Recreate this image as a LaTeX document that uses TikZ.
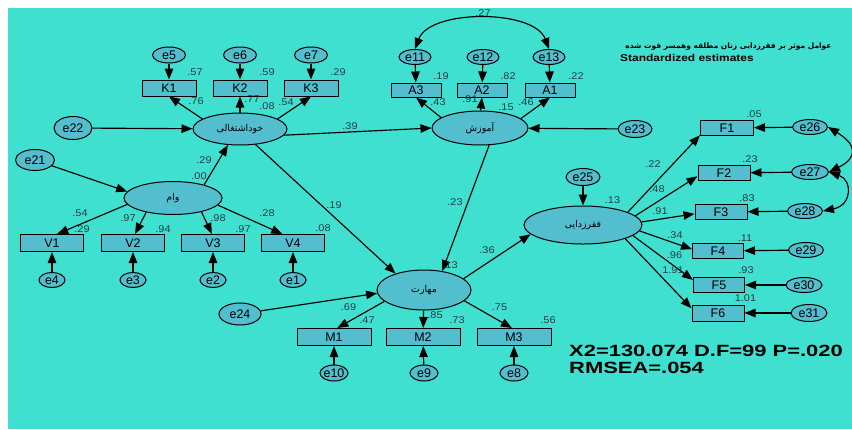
\documentclass[tikz,border=0pt]{standalone}
\usepackage{fontspec}
\setmainfont{Liberation Sans}
\newfontfamily\arab[Script=Arabic]{DejaVu Sans}
\newfontfamily\widefont[FakeStretch=1.35]{Liberation Sans}
\newfontfamily\midfont[FakeStretch=1.2]{Liberation Sans}
\newfontfamily\numfont[FakeStretch=1.12]{Liberation Sans}
\TeXXeTstate=1
\usetikzlibrary{shapes.geometric,arrows.meta}
\definecolor{bgc}{RGB}{64,224,208}
\definecolor{nodec}{RGB}{82,190,206}
\definecolor{numc}{RGB}{35,60,66}
\tikzset{
  ar/.style={-{Triangle[length=11bp,width=8.5bp]}, line width=1.15bp, draw=black},
  dar/.style={{Triangle[length=11bp,width=8.5bp]}-{Triangle[length=11bp,width=8.5bp]}, line width=1.15bp, draw=black},
  enode/.style 2 args={ellipse, draw=black, line width=1bp, fill=nodec, minimum width=#1bp, minimum height=#2bp, inner sep=0pt, font=\fontsize{12.5}{14}\selectfont},
  lat/.style 2 args={ellipse, draw=black, line width=1bp, fill=nodec, minimum width=#1bp, minimum height=#2bp, inner sep=0pt, font=\arab\fontsize{9.5}{11}\selectfont},
  obs/.style 2 args={rectangle, draw=black, line width=1bp, fill=nodec, minimum width=#1bp, minimum height=#2bp, inner sep=0pt, font=\fontsize{12.5}{14}\selectfont},
  num/.style={inner sep=0pt, text=numc, font=\numfont\fontsize{9.8}{11}\selectfont},
}
\newcommand{\zb}[1]{\makebox[0pt]{#1}}
\newcommand{\rtl}[1]{\makebox[0pt]{\beginR #1\endR}}
\begin{document}
\begin{tikzpicture}[x=1bp,y=-1bp]
\useasboundingbox (0,0) rectangle (852,429);
\fill[white] (0,0) rectangle (852,429);
\fill[bgc] (8,8) rectangle (852,429);

% latent variables
\node[lat={94}{32}] (khod) at (240,129) {\rtl{خوداشتغالی}};
\node[lat={96}{34}] (amoz) at (480,128) {\rtl{آموزش}};
\node[lat={98}{33}] (vam) at (173,198) {\rtl{وام}};
\node[lat={94}{40}] (mahar) at (424,290) {\rtl{مهارت}};
\node[lat={118}{38}] (faghr) at (583,225) {\rtl{فقرزدایی}};

% K group
\node[enode={33}{16}] (e5) at (169,55) {\zb{e5}};
\node[enode={33}{16}] (e6) at (240,55) {\zb{e6}};
\node[enode={33}{16}] (e7) at (311,55) {\zb{e7}};
\node[obs={54}{16}] (K1) at (169,88) {\zb{K1}};
\node[obs={54}{16}] (K2) at (240,88) {\zb{K2}};
\node[obs={54}{16}] (K3) at (311,88) {\zb{K3}};
\node[enode={38}{23}] (e22) at (73,128) {\zb{e22}};

% A group
\node[enode={32}{15}] (e11) at (415,57) {\zb{e11}};
\node[enode={32}{15}] (e12) at (483,57) {\zb{e12}};
\node[enode={32}{15}] (e13) at (549,57) {\zb{e13}};
\node[obs={50}{14}] (A3) at (416,90) {\zb{A3}};
\node[obs={50}{14}] (A2) at (482,90) {\zb{A2}};
\node[obs={50}{14}] (A1) at (550,90) {\zb{A1}};
\node[enode={34}{17}] (e23) at (635,129) {\zb{e23}};

% V group
\node[enode={39}{21}] (e21) at (35,160) {\zb{e21}};
\node[obs={63}{17}] (V1) at (52,243) {\zb{V1}};
\node[obs={63}{17}] (V2) at (133,243) {\zb{V2}};
\node[obs={63}{17}] (V3) at (213,243) {\zb{V3}};
\node[obs={63}{17}] (V4) at (293,243) {\zb{V4}};
\node[enode={26}{15}] (e4) at (52,280) {\zb{e4}};
\node[enode={26}{15}] (e3) at (133,280) {\zb{e3}};
\node[enode={26}{15}] (e2) at (213,280) {\zb{e2}};
\node[enode={26}{15}] (e1) at (293,280) {\zb{e1}};

% M group
\node[enode={42}{22}] (e24) at (240,314) {\zb{e24}};
\node[obs={74}{17}] (M1) at (334,337) {\zb{M1}};
\node[obs={74}{17}] (M2) at (423,337) {\zb{M2}};
\node[obs={74}{17}] (M3) at (514,337) {\zb{M3}};
\node[enode={28}{16}] (e10) at (334,373) {\zb{e10}};
\node[enode={28}{16}] (e9) at (424,373) {\zb{e9}};
\node[enode={28}{16}] (e8) at (514,373) {\zb{e8}};

% F group
\node[enode={34}{17}] (e25) at (583,177) {\zb{e25}};
\node[obs={53}{15}] (F1) at (727,128) {\zb{F1}};
\node[obs={52}{15}] (F2) at (724,173) {\zb{F2}};
\node[obs={52}{15}] (F3) at (721,212) {\zb{F3}};
\node[obs={51}{15}] (F4) at (718,251) {\zb{F4}};
\node[obs={51}{15}] (F5) at (719,285) {\zb{F5}};
\node[obs={52}{16}] (F6) at (718,313) {\zb{F6}};
\node[enode={35}{15}] (e26) at (810,127) {\zb{e26}};
\node[enode={37}{15}] (e27) at (810,172) {\zb{e27}};
\node[enode={35}{15}] (e28) at (805,211) {\zb{e28}};
\node[enode={35}{15}] (e29) at (806,250) {\zb{e29}};
\node[enode={36}{15}] (e30) at (804,285) {\zb{e30}};
\node[enode={36}{17}] (e31) at (809,313) {\zb{e31}};

% connectors
\draw[ar] (e5) -- (K1);
\draw[ar] (e6) -- (K2);
\draw[ar] (e7) -- (K3);
\draw[ar] (khod.165) -- (K1.south);
\draw[ar] (khod) -- (K2);
\draw[ar] (khod.15) -- (K3.south);
\draw[ar] (e22) -- (khod);
\draw[ar] (khod.-8) -- (amoz.west);
\draw[ar] (khod.-45) -- (mahar.150);
\draw[ar] (vam.23) -- (khod.-127);
\draw[ar] (e21) -- (vam.172);
\draw[ar] (vam.188) -- (V1.60);
\draw[ar] (vam.208) -- (V2.77);
\draw[ar] (vam.-26) -- (V3.97);
\draw[ar] (vam.-9) -- (V4.140);
\draw[ar] (e4) -- (V1);
\draw[ar] (e3) -- (V2);
\draw[ar] (e2) -- (V3);
\draw[ar] (e1) -- (V4);
\draw[ar] (e11) -- (A3);
\draw[ar] (e12) -- (A2);
\draw[ar] (e13) -- (A1);
\draw[ar] (amoz.165) -- (A3.south);
\draw[ar] (amoz.88) -- (A2.south);
\draw[ar] (amoz.13) -- (A1.south);
\draw[ar] (e23) -- (amoz);
\draw[ar] (amoz.-62) -- (mahar.46);
\draw[ar] (e24) -- (mahar.184);
\draw[ar] (mahar.196) -- (M1.70);
\draw[ar] (mahar) -- (M2);
\draw[ar] (mahar.-15) -- (M3.103);
\draw[ar] (e10) -- (M1);
\draw[ar] (e9) -- (M2);
\draw[ar] (e8) -- (M3);
\draw[ar] (mahar.16) -- (faghr.190);
\draw[ar] (e25) -- (faghr);
\draw[ar] (faghr.16) -- (F1.195);
\draw[ar] (faghr.10) -- (F2.187);
\draw[ar] (faghr.3) -- (F3.184);
\draw[ar] (faghr.-6) -- (F4.176);
\draw[ar] (faghr.-12) -- (F5.169);
\draw[ar] (faghr.-18) -- (F6.170);
\draw[ar] (e26) -- (F1);
\draw[ar] (e27) -- (F2);
\draw[ar] (e28) -- (F3);
\draw[ar] (e29) -- (F4);
\draw[ar] (e30) -- (F5);
\draw[ar] (e31) -- (F6);
\draw[dar] (e11.north) .. controls +(15,-40) and +(-15,-40) .. (e13.north);
\draw[dar] (e26.east) .. controls +(29.5,18) and +(28.5,-14) .. (e27.east);
\draw[dar] (e27.east) .. controls +(23.5,8) and +(29.5,-6) .. (e28.east);

% numbers
\node[num] (n1) at (195,72.5) {.57};
\node[num] (n2) at (267,72.5) {.59};
\node[num] (n3) at (338,72.5) {.29};
\node[num] (n4) at (196,101) {.76};
\node[num] (n5) at (252,99) {.77};
\node[num] (n6) at (267,106) {.08};
\node[num] (n7) at (286,102) {.54};
\node[num] (n8) at (483,13) {.27};
\node[num] (n9) at (441,76) {.19};
\node[num] (n10) at (508,76) {.82};
\node[num] (n11) at (576,76) {.22};
\node[num] (n12) at (438,102) {.43};
\node[num] (n13) at (470,99.5) {.91};
\node[num] (n14) at (506,107) {.15};
\node[num] (n15) at (526,102) {.46};
\node[num] (n16) at (350,126) {.39};
\node[num] (n17) at (204,160) {.29};
\node[num] (n18) at (199,176) {.00};
\node[num] (n19) at (80,213) {.54};
\node[num] (n20) at (82,229) {.29};
\node[num] (n21) at (128,218) {.97};
\node[num] (n22) at (163,229) {.94};
\node[num] (n23) at (218,218) {.98};
\node[num] (n24) at (243,229) {.97};
\node[num] (n25) at (267,213) {.28};
\node[num] (n26) at (323,228) {.08};
\node[num] (n27) at (334,205) {.19};
\node[num] (n28) at (455,202.5) {.23};
\node[num] (n29) at (487,250.5) {.36};
\node[num] (n30) at (450,265) {.13};
\node[num] (n31) at (348.5,307.5) {.69};
\node[num] (n32) at (367,320) {.47};
\node[num] (n33) at (435,315) {.85};
\node[num] (n34) at (457,320) {.73};
\node[num] (n35) at (499.5,307.5) {.75};
\node[num] (n36) at (548,320) {.56};
\node[num] (n37) at (612.5,200) {.13};
\node[num] (n38) at (653,164) {.22};
\node[num] (n39) at (657,189) {.48};
\node[num] (n40) at (660,211) {.91};
\node[num] (n41) at (675,235) {.34};
\node[num] (n42) at (674.5,255) {.96};
\node[num] (n43) at (673,270) {1.91};
\node[num] (n44) at (754,114.5) {.05};
\node[num] (n45) at (750,159) {.23};
\node[num] (n46) at (747,198) {.83};
\node[num] (n47) at (745,238) {.11};
\node[num] (n48) at (746,270.5) {.93};
\node[num] (n49) at (745.5,298.5) {1.01};

% titles and fit
\node[inner sep=0pt, font=\arab\bfseries\fontsize{7.5}{9}\selectfont] (title) at (728.5,47) {\beginR عوامل موثر بر فقرزدایی زنان مطلقه وهمسر فوت شده\endR};
\node[inner sep=0pt, anchor=west, font=\midfont\bfseries\fontsize{10}{12}\selectfont] (std) at (620,58) {Standardized estimates};
\node[inner sep=0pt, anchor=west, font=\widefont\bfseries\fontsize{16.3}{18}\selectfont] (fit1) at (569,351) {X2=130.074 D.F=99 P=.020};
\node[inner sep=0pt, anchor=west, font=\widefont\bfseries\fontsize{16.3}{18}\selectfont] (fit2) at (569,368) {RMSEA=.054};
\end{tikzpicture}
\end{document}
